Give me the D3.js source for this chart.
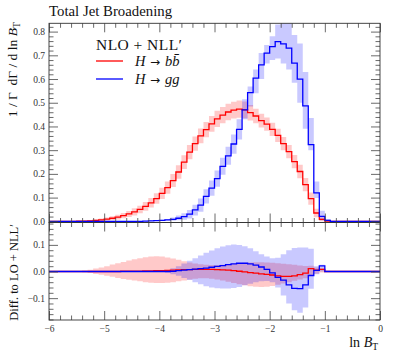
<!DOCTYPE html>
<html><head><meta charset="utf-8">
<script src="https://cdn.jsdelivr.net/npm/d3@7"></script>
<style>
html,body{margin:0;padding:0;background:#fff;}
svg text{font-family:"Liberation Serif","DejaVu Serif",serif;}
</style></head>
<body><svg id="c" width="393" height="354"></svg>
<script>
// Bins in ln B_T: 60 bins of width 0.1 from -6 to 0
const binStart = -6, binWidth = 0.1, nBins = 60;
const xTicks = [-6,-5,-4,-3,-2,-1,0];
const yMainTicks = [0,0.1,0.2,0.3,0.4,0.5,0.6,0.7,0.8];
const yDiffTicks = [-0.1,0,0.1];

// Main panel: NLO+NLL' distributions
const redNLO = [0,0,0,0,0, 0.001,0.001,0.002,0.004,0.006, 0.009,0.013,0.018,0.024,0.031,
  0.040,0.050,0.063,0.078,0.096, 0.118,0.142,0.172,0.208,0.250, 0.292,0.328,0.360,0.387,0.411,
  0.432,0.448,0.461,0.469,0.473, 0.470,0.458,0.444,0.425,0.410, 0.388,0.362,0.328,0.294,0.252,
  0.210,0.155,0.096,0.035,0.008, 0.001,0,0,0,0, 0,0,0,0,0];
const redUnc = [0,0,0,0,0, 0.002,0.003,0.004,0.005,0.006, 0.007,0.008,0.010,0.011,0.013,
  0.015,0.016,0.018,0.020,0.022, 0.024,0.026,0.027,0.028,0.029, 0.030,0.030,0.031,0.032,0.033,
  0.034,0.034,0.035,0.035,0.036, 0.035,0.033,0.031,0.029,0.028, 0.028,0.028,0.028,0.028,0.028,
  0.028,0.028,0.026,0.018,0.008, 0.002,0,0,0,0, 0,0,0,0,0];
const blueNLO = [0,0,0,0,0, 0,0,0,0,0, 0,0,0,0,0, 0,0,0.001,0.002,0.003,
  0.004,0.006,0.008,0.013,0.020, 0.030,0.048,0.068,0.105,0.140, 0.180,0.232,0.276,0.326,0.388,
  0.470,0.543,0.604,0.660,0.709, 0.737,0.758,0.748,0.730,0.667, 0.600,0.487,0.323,0.120,0.021,
  0.004,0,0,0,0, 0,0,0,0,0];
const blueLo = [0,0,0,0,0, 0,0,0,0,0, 0,0,0,0,0, 0,0,0.001,0.001,0.002,
  0.002,0.003,0.002,0.004,0.007, 0.012,0.024,0.040,0.075,0.108, 0.146,0.196,0.238,0.285,0.345,
  0.430,0.484,0.540,0.600,0.665, 0.680,0.687,0.665,0.640,0.584, 0.500,0.390,0.300,0.098,0.005,
  0,0,0,0,0, 0,0,0,0,0];
const blueHi = [0,0,0,0,0, 0,0,0,0,0, 0,0,0,0,0, 0,0,0.002,0.003,0.005,
  0.007,0.010,0.016,0.024,0.034, 0.048,0.070,0.096,0.135,0.172, 0.214,0.268,0.314,0.366,0.430,
  0.515,0.568,0.640,0.710,0.744, 0.780,0.830,0.860,0.860,0.786, 0.750,0.630,0.436,0.168,0.045,
  0.010,0,0,0,0, 0,0,0,0,0];

// Lower panel: difference to LO+NLL'
const redDiff = [0,0,0,0,0, 0,0,0,0,0, 0,0,0,0.001,0.001,
  0.001,0.001,0.002,0.002,0.003, 0.003,0.004,0.005,0.006,0.007, 0.007,0.008,0.008,0.008,0.008,
  0.007,0.006,0.005,0.003,0.001, -0.001,-0.004,-0.006,-0.009,-0.011, -0.013,-0.016,-0.018,-0.018,-0.016,
  -0.012,-0.006,0.011,0.005,0.008, 0,0,0,0,0, 0,0,0,0,0];
const redDiffHi = [0,0,0,0,0, 0.002,0.004,0.007,0.011,0.015, 0.020,0.026,0.031,0.036,0.041,
  0.046,0.050,0.054,0.056,0.057, 0.056,0.053,0.049,0.044,0.039, 0.034,0.030,0.027,0.025,0.024,
  0.024,0.025,0.027,0.029,0.031, 0.033,0.034,0.035,0.035,0.034, 0.033,0.031,0.029,0.027,0.025,
  0.023,0.021,0.022,0.015,0.012, 0.002,0,0,0,0, 0,0,0,0,0];
const redDiffLo = [0,0,0,0,0, -0.002,-0.003,-0.006,-0.009,-0.012, -0.016,-0.020,-0.024,-0.028,-0.031,
  -0.034,-0.037,-0.040,-0.042,-0.043, -0.043,-0.042,-0.040,-0.037,-0.034, -0.030,-0.027,-0.025,-0.025,-0.027,
  -0.030,-0.034,-0.038,-0.043,-0.048, -0.052,-0.055,-0.057,-0.058,-0.057, -0.054,-0.050,-0.045,-0.040,-0.035,
  -0.030,-0.025,-0.015,-0.008,-0.004, -0.001,0,0,0,0, 0,0,0,0,0];
const blueDiff = [0,0,0,0,0, 0,0,0,0,0, 0,0,0,0,0, 0,0,0,0,0,
  0,0,0.001,0.003,0.005, 0.007,0.009,0.011,0.013,0.016, 0.019,0.022,0.026,0.029,0.031,
  0.031,0.029,0.024,0.017,0.008, -0.005,-0.022,-0.032,-0.050,-0.063, -0.064,-0.050,-0.015,0.004,0.021,
  0,0,0,0,0, 0,0,0,0,0];
const blueDiffHi = [0,0,0,0,0, 0,0,0,0,0, 0,0,0,0,0, 0,0,0,0,0,
  0.002,0.006,0.012,0.020,0.030, 0.040,0.050,0.060,0.070,0.079, 0.087,0.094,0.099,0.101,0.100,
  0.095,0.087,0.076,0.065,0.056, 0.050,0.052,0.065,0.080,0.088, 0.090,0.090,0.085,0.020,0.025,
  0.003,0,0,0,0, 0,0,0,0,0];
const blueDiffLo = [0,0,0,0,0, 0,0,0,0,0, 0,0,0,0,0, 0,0,0,0,0,
  -0.002,-0.005,-0.010,-0.016,-0.024, -0.032,-0.040,-0.048,-0.055,-0.060, -0.063,-0.064,-0.064,-0.062,-0.058,
  -0.052,-0.046,-0.040,-0.037,-0.036, -0.040,-0.060,-0.090,-0.120,-0.145, -0.155,-0.135,-0.065,-0.010,0.000,
  -0.002,0,0,0,0, 0,0,0,0,0];

const RED = "#ff0000", BLUE = "#0000ff";

const svg = d3.select("#c");
const L = 49, R = 380, T = 23.3, M = 222.5, B = 320;
const x = d3.scaleLinear().domain([-6,0]).range([L,R]);
const yM = d3.scaleLinear().domain([-0.005,0.835]).range([M,T]);
const yD = d3.scaleLinear().domain([-0.182,0.184]).range([B,M]);

const edges = d3.range(nBins+1).map(i => binStart + i*binWidth);
function stepPts(vals){ const p = vals.map((v,i)=>[edges[i],v]); p.push([edges[nBins], vals[nBins-1]]); return p; }
function bandPts(lo,hi){ const p = lo.map((v,i)=>[edges[i],v,hi[i]]); p.push([edges[nBins], lo[nBins-1], hi[nBins-1]]); return p; }

const defs = svg.append("defs");
defs.append("clipPath").attr("id","cm").append("rect").attr("x",L).attr("y",T).attr("width",R-L).attr("height",M-T);
defs.append("clipPath").attr("id","cd").append("rect").attr("x",L).attr("y",M).attr("width",R-L).attr("height",B-M);

function panel(y, clip, bands, lines){
  const g = svg.append("g").attr("clip-path",`url(#${clip})`);
  bands.forEach(b=>{
    const area = d3.area().curve(d3.curveStepAfter).x(d=>x(d[0])).y0(d=>y(d[1])).y1(d=>y(d[2]));
    g.append("path").attr("d",area(bandPts(b.lo,b.hi))).attr("fill",b.color).attr("fill-opacity",0.21).attr("stroke","none");
  });
  lines.forEach(l=>{
    const line = d3.line().curve(d3.curveStepAfter).x(d=>x(d[0])).y(d=>y(d[1]));
    g.append("path").attr("d",line(stepPts(l.vals))).attr("fill","none").attr("stroke",l.color).attr("stroke-width",1.3);
  });
}

const redLo = redNLO.map((v,i)=>Math.max(0,v-redUnc[i]));
const redHi = redNLO.map((v,i)=>v+redUnc[i]);
panel(yM,"cm",[{lo:redLo,hi:redHi,color:RED},{lo:blueLo,hi:blueHi,color:BLUE}],
  [{vals:redNLO,color:RED},{vals:blueNLO,color:BLUE}]);
panel(yD,"cd",[{lo:redDiffLo,hi:redDiffHi,color:RED},{lo:blueDiffLo,hi:blueDiffHi,color:BLUE}],
  [{vals:redDiff,color:RED},{vals:blueDiff,color:BLUE}]);

// axes
const TC = "#444";
function minorVals(a,b,step,majors){ const out=[]; const n=Math.round((b-a)/step); for(let i=0;i<=n;i++){const v=+(a+i*step).toFixed(4); if(!majors.some(m=>Math.abs(m-v)<1e-6)) out.push(v);} return out; }
const xMinor = minorVals(-6,0,0.2,xTicks);
const yMMinor = minorVals(0,0.82,0.02,yMainTicks);
const yDMinor = minorVals(-0.18,0.18,0.02,yDiffTicks);

function ax(gen, tr, vals, size, fmt){
  const g = svg.append("g").attr("transform",tr)
    .call(gen.tickValues(vals).tickSize(size).tickPadding(4).tickFormat(fmt||""));
  g.select(".domain").remove();
  g.selectAll("line").attr("stroke",TC).attr("stroke-width",0.8);
  g.selectAll("text").attr("fill","#333").style("font-size","9.5px").style("font-family","'Liberation Serif',serif");
  return g;
}
const MJ = -9, MN = -4.5;
// main panel
ax(d3.axisLeft(yM),`translate(${L},0)`,yMainTicks,MJ,d3.format(".1f"));
ax(d3.axisLeft(yM),`translate(${L},0)`,yMMinor,MN);
ax(d3.axisRight(yM),`translate(${R},0)`,yMainTicks,MJ);
ax(d3.axisRight(yM),`translate(${R},0)`,yMMinor,MN);
ax(d3.axisTop(x),`translate(0,${T})`,xTicks,MJ);
ax(d3.axisTop(x),`translate(0,${T})`,xMinor,MN);
ax(d3.axisBottom(x),`translate(0,${M})`,xTicks,MJ);
ax(d3.axisBottom(x),`translate(0,${M})`,xMinor,MN);
// diff panel
ax(d3.axisLeft(yD),`translate(${L},0)`,yDiffTicks,MJ,d3.format(".1f"));
ax(d3.axisLeft(yD),`translate(${L},0)`,yDMinor,MN);
ax(d3.axisRight(yD),`translate(${R},0)`,yDiffTicks,MJ);
ax(d3.axisRight(yD),`translate(${R},0)`,yDMinor,MN);
ax(d3.axisTop(x),`translate(0,${M})`,xTicks,MJ);
ax(d3.axisTop(x),`translate(0,${M})`,xMinor,MN);
ax(d3.axisBottom(x),`translate(0,${B})`,xTicks,MJ,d3.format("d")).selectAll("text").attr("dy","0.85em");
ax(d3.axisBottom(x),`translate(0,${B})`,xMinor,MN);

// frames
[[T,M],[M,B]].forEach(([a,b])=>svg.append("rect").attr("x",L).attr("y",a).attr("width",R-L).attr("height",b-a)
  .attr("fill","none").attr("stroke","#333").attr("stroke-width",0.9));

// title
svg.append("text").attr("x",L).attr("y",16).style("font-size","14.8px").attr("fill","#111").text("Total Jet Broadening");

// y labels
const yl = svg.append("text").attr("transform",`translate(17,${T-1}) rotate(-90)`).attr("text-anchor","end")
  .style("font-size","13.5px").attr("fill","#111").style("white-space","pre");
yl.append("tspan").text("1 / Γ  dΓ / d ln ");
yl.append("tspan").style("font-style","italic").text("B");
yl.append("tspan").attr("dy",2.5).style("font-size","9.5px").text("T");

svg.append("text").attr("transform",`translate(18,${M+1.5}) rotate(-90)`).attr("text-anchor","end")
  .style("font-size","12.5px").attr("fill","#111").text("Diff. to LO + NLL′");

// x label
const xl = svg.append("text").attr("x",R-2).attr("y",347).attr("text-anchor","end").style("font-size","14px").attr("fill","#111");
xl.append("tspan").text("ln ");
xl.append("tspan").style("font-style","italic").text("B");
xl.append("tspan").attr("dy",2.5).style("font-size","9.5px").text("T");

// legend
svg.append("text").attr("x",96).attr("y",50).style("font-size","15.5px").attr("fill","#111")
  .attr("textLength",86).attr("lengthAdjust","spacing").text("NLO + NLL′");
const leg = [{c:RED, parts:[["H","i",0],["→","a",4.5],["b","i",5],["b\u0304","i",0]], y:61},
             {c:BLUE, parts:[["H","i",0],["→","a",4.5],["gg","i",5]], y:79}];
leg.forEach(l=>{
  svg.append("line").attr("x1",96).attr("x2",123).attr("y1",l.y).attr("y2",l.y).attr("stroke",l.c).attr("stroke-width",1.3);
  const t = svg.append("text").attr("x",135).attr("y",l.y+4.5).style("font-size","14.5px").attr("fill","#111");
  l.parts.forEach(p=>{
    const s = t.append("tspan").attr("dx",p[2]).style("font-style",p[1]==="i"?"italic":"normal").text(p[0]);
    if(p[1]==="a") s.style("font-family","'DejaVu Sans',sans-serif").style("font-size","12px");
  });
});
</script></body></html>
